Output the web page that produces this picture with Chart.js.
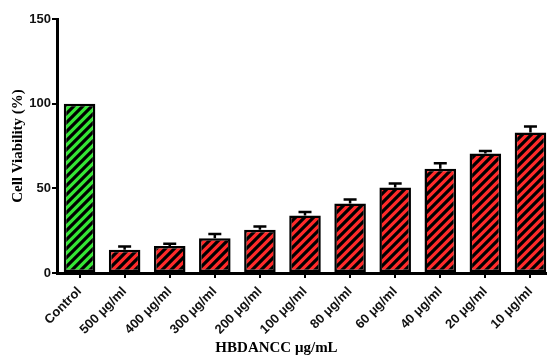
<!DOCTYPE html>
<html>
<head>
<meta charset="utf-8">
<script src="https://cdn.jsdelivr.net/npm/chart.js@4/dist/chart.umd.min.js"></script>
<style>
  html, body { margin: 0; padding: 0; background: #fff; }
  #wrap { width: 547px; height: 358px; overflow: hidden; position: relative; }
  canvas { display: block; }
</style>
</head>
<body>
<div id="wrap"><canvas id="c" width="553" height="358"></canvas></div>
<script>
// Cell viability after treatment with HBDANCC
const categories = ['Control', '500 \u03bcg/ml', '400 \u03bcg/ml', '300 \u03bcg/ml', '200 \u03bcg/ml',
  '100 \u03bcg/ml', '80 \u03bcg/ml', '60 \u03bcg/ml', '40 \u03bcg/ml', '20 \u03bcg/ml', '10 \u03bcg/ml'];
const viability = [100, 13.8, 16.0, 20.5, 25.5, 34.0, 41.0, 50.5, 61.5, 70.5, 83.0];
const errors    = [0, 1.8, 1.2, 2.5, 2.0, 2.0, 2.4, 2.3, 3.3, 1.5, 3.5];
const yTicks    = [0, 50, 100, 150];

const GREEN = '#35e635';
const RED = '#ff2a2a';

// Diagonal hatch fill: black "/" stripes over a solid colour
function hatch(color) {
  const s = 9;
  const c = document.createElement('canvas');
  c.width = s; c.height = s;
  const g = c.getContext('2d');
  g.fillStyle = color;
  g.fillRect(0, 0, s, s);
  g.strokeStyle = '#000';
  g.lineWidth = 3.2;
  g.beginPath();
  g.moveTo(0, s); g.lineTo(s, 0);
  g.moveTo(-s / 2, s / 2); g.lineTo(s / 2, -s / 2);
  g.moveTo(s / 2, s * 1.5); g.lineTo(s * 1.5, s / 2);
  g.stroke();
  return g.createPattern(c, 'repeat');
}

const fills = categories.map((_, i) => hatch(i === 0 ? GREEN : RED));

// Upper error bars (mean + SD) with caps
const errorBars = {
  id: 'errorBars',
  afterDatasetsDraw(chart) {
    const ctx = chart.ctx;
    const meta = chart.getDatasetMeta(0);
    const y = chart.scales.y;
    ctx.save();
    ctx.strokeStyle = '#000';
    ctx.lineWidth = 2.5;
    meta.data.forEach((bar, i) => {
      if (!errors[i]) return;
      const top = y.getPixelForValue(viability[i] + errors[i]);
      const base = y.getPixelForValue(viability[i]);
      ctx.beginPath();
      ctx.moveTo(bar.x, base);
      ctx.lineTo(bar.x, top);
      ctx.moveTo(bar.x - 6.5, top);
      ctx.lineTo(bar.x + 6.5, top);
      ctx.stroke();
    });
    ctx.restore();
  }
};

new Chart(document.getElementById('c'), {
  type: 'bar',
  data: {
    labels: categories,
    datasets: [{
      data: viability,
      backgroundColor: fills,
      borderColor: '#000',
      borderWidth: 2.5,
      borderSkipped: false,
      barPercentage: 0.7,
      categoryPercentage: 1.0
    }]
  },
  options: {
    responsive: false,
    animation: false,
    layout: { padding: { top: 19, left: 0, right: 0, bottom: 0 } },
    plugins: {
      legend: { display: false },
      tooltip: { enabled: false },
      title: {
        display: true,
        position: 'bottom',
        text: 'HBDANCC \u03bcg/mL',
        color: '#000',
        font: { family: 'Liberation Serif', size: 15, weight: 'bold' },
        padding: { top: 5, bottom: 1 }
      }
    },
    scales: {
      x: {
        afterFit(s) { s.height = 61; },
        border: { display: true, width: 3, color: '#000' },
        grid: { offset: false, drawOnChartArea: false, drawTicks: true, tickLength: 5, color: '#000', lineWidth: 2 },
        ticks: {
          color: '#111',
          minRotation: 45, maxRotation: 45,
          padding: 6,
          autoSkip: false,
          font: { family: 'Liberation Sans', size: 13, weight: 'bold' }
        }
      },
      y: {
        min: 0, max: 150,
        afterFit(s) { s.width = 57; },
        afterBuildTicks(s) { s.ticks = yTicks.map(v => ({ value: v })); },
        border: { display: true, width: 3, color: '#000' },
        grid: { drawOnChartArea: false, drawTicks: true, tickLength: 5, color: '#000', lineWidth: 2 },
        ticks: {
          color: '#111',
          padding: 1,
          font: { family: 'Liberation Sans', size: 13, weight: 'bold' }
        },
        title: {
          display: true,
          text: 'Cell Viability (%)',
          color: '#000',
          font: { family: 'Liberation Serif', size: 15, weight: 'bold' },
          padding: { top: 9, bottom: 0 }
        }
      }
    }
  },
  plugins: [errorBars]
});
</script>
</body>
</html>
